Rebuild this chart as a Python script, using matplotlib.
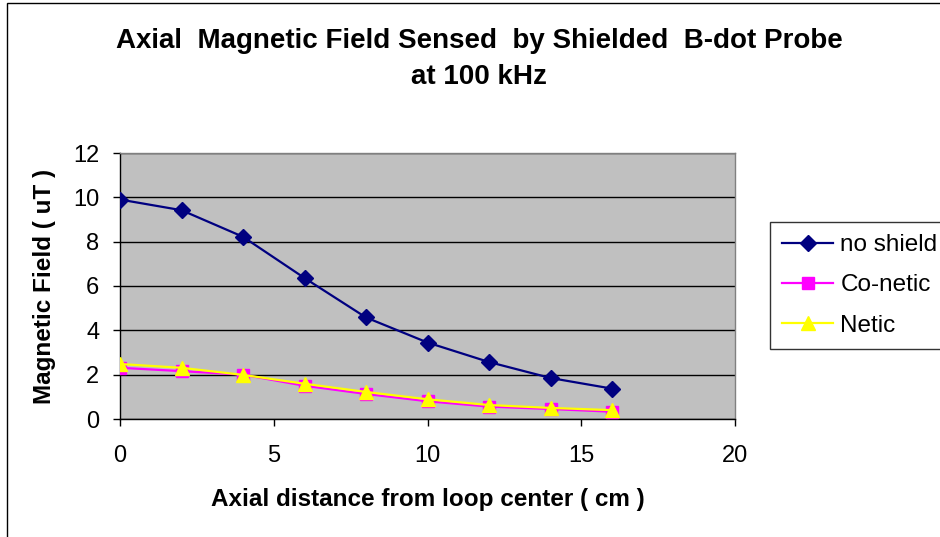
import matplotlib
matplotlib.use("Agg")
import matplotlib.pyplot as plt
from matplotlib.patches import Rectangle

# Axial distance from loop center (cm)
distance_cm = [0, 2, 4, 6, 8, 10, 12, 14, 16]

# Magnetic field (uT) for each configuration
no_shield = [9.9, 9.42, 8.22, 6.36, 4.58, 3.45, 2.57, 1.85, 1.37]
co_netic = [2.31, 2.16, 2.0, 1.5, 1.13, 0.8, 0.56, 0.45, 0.33]
netic = [2.48, 2.31, 1.99, 1.59, 1.22, 0.89, 0.63, 0.5, 0.4]

series_names = ["no shield", "Co-netic", "Netic"]

title_text = "Axial  Magnetic Field Sensed  by Shielded  B-dot Probe\nat 100 kHz"
xlabel_text = "Axial distance from loop center ( cm )"
ylabel_text = "Magnetic Field ( uT )"

x_ticks = [0, 5, 10, 15, 20]
y_ticks = [0, 2, 4, 6, 8, 10, 12]

plt.rcParams["font.family"] = ["Liberation Sans", "DejaVu Sans"]

W, H = 940, 537
fig = plt.figure(figsize=(W / 100, H / 100), dpi=100)
fig.patch.set_facecolor("white")

# outer chart border
fig.patches.append(Rectangle((7.5 / W, -0.05), 1.2, 1.05 - 2.5 / H,
                             transform=fig.transFigure, fill=False,
                             edgecolor="black", linewidth=1.0))

left, right = 120 / W, 735 / W
bottom, top = 1 - 419 / H, 1 - 153 / H
ax = fig.add_axes([left, bottom, right - left, top - bottom])
ax.set_facecolor("#C0C0C0")

ax.plot(distance_cm, no_shield, color="#000080", marker="D", markersize=8,
        linewidth=1.6, label=series_names[0], zorder=3)
ax.plot(distance_cm, co_netic, color="#FF00FF", marker="s", markersize=8,
        linewidth=1.6, label=series_names[1], zorder=3)
ax.plot(distance_cm, netic, color="#FFFF00", marker="^", markersize=10,
        linewidth=1.6, label=series_names[2], zorder=4)

ax.set_xlim(0, 20)
ax.set_ylim(0, 12)
ax.set_xticks(x_ticks)
ax.set_yticks(y_ticks)
ax.yaxis.grid(True, color="black", linewidth=1.0)
ax.set_axisbelow(True)

for side in ("top", "right"):
    ax.spines[side].set_color("#808080")
    ax.spines[side].set_linewidth(1.0)
for side in ("left", "bottom"):
    ax.spines[side].set_color("black")
    ax.spines[side].set_linewidth(1.0)

ax.tick_params(axis="both", direction="out", length=5, width=1.0,
               labelsize=17, colors="black")
ax.tick_params(axis="x", pad=14)
ax.tick_params(axis="y", pad=10)

ax.set_xlabel(xlabel_text, fontsize=17.5, fontweight="bold", labelpad=15)
ax.set_ylabel(ylabel_text, fontsize=17.5, fontweight="bold", labelpad=12)

fig.text(479 / W, 1 - 59 / H, title_text, ha="center", va="center",
         fontsize=20, fontweight="bold", linespacing=1.5)

leg = fig.legend(loc="upper left", bbox_to_anchor=(770 / W, 1 - 222 / H),
                 frameon=True, fancybox=False, edgecolor="black",
                 fontsize=17.5, handlelength=2.1, borderaxespad=0,
                 labelspacing=0.75, handletextpad=0.3, borderpad=0.5)
leg.get_frame().set_linewidth(1.0)

fig.savefig("out.png", dpi=100, facecolor="white")
